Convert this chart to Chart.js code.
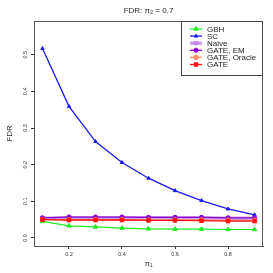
<!DOCTYPE html>
<html>
<head>
<meta charset="utf-8">
<script src="https://cdn.jsdelivr.net/npm/chart.js@4/dist/chart.umd.min.js"></script>
<style>
  html, body { margin: 0; padding: 0; background: #fff; }
  #wrap { width: 273px; height: 273px; }
</style>
</head>
<body>
<div id="wrap"><canvas id="c" width="273" height="273"></canvas></div>
<script>
// pi_1 values
const pi1 = [0.1, 0.2, 0.3, 0.4, 0.5, 0.6, 0.7, 0.8, 0.9];

// FDR per method
const gbh    = [0.045, 0.033, 0.030, 0.027, 0.025, 0.024, 0.024, 0.023, 0.023];
const sc     = [0.517, 0.359, 0.263, 0.206, 0.163, 0.129, 0.102, 0.079, 0.063];
const naive  = [0.054, 0.055, 0.055, 0.055, 0.055, 0.055, 0.055, 0.054, 0.054];
const gateEM = [0.055, 0.057, 0.057, 0.057, 0.056, 0.056, 0.056, 0.055, 0.055];
const oracle = [0.050, 0.050, 0.050, 0.050, 0.049, 0.049, 0.049, 0.048, 0.048];
const gate   = [0.050, 0.049, 0.049, 0.049, 0.048, 0.048, 0.047, 0.046, 0.046];

const xTicks = [0.2, 0.4, 0.6, 0.8];
const yTicks = [0.0, 0.1, 0.2, 0.3, 0.4, 0.5];

const labels = ["GBH", "SC", "Naive", "GATE, EM", "GATE, Oracle", "GATE"];
const values = [gbh, sc, naive, gateEM, oracle, gate];
const colors = ["#22ee22", "#1a1aff", "rgba(190,130,230,0.75)", "#8a00d0", "#ff8a6a", "#ff1010"];
const widths = [1.2, 1.3, 3.5, 1.3, 1.3, 1.3];
const styles = ["triangle", "triangle", "rect", "star", "circle", "rect"];
const radii  = [2.5, 2, 2.5, 2.5, 2.3, 2.5];

function pts(arr) {
    return arr.map((v, i) => ({ x: pi1[i], y: v }));
}

const datasets = labels.map((lab, i) => ({
    label: lab,
    data: pts(values[i]),
    borderColor: colors[i],
    backgroundColor: colors[i],
    borderWidth: widths[i],
    pointStyle: styles[i],
    pointRadius: radii[i],
    pointBorderWidth: styles[i] === "star" ? 1.5 : 1,
    order: labels.length - i,
    tension: 0
}));

// plot box, title and legend
const boxPlugin = {
    id: "boxPlugin",
    afterDraw(chart) {
        const ctx = chart.ctx;
        const a = chart.chartArea;
        ctx.save();
        ctx.strokeStyle = "#555";
        ctx.lineWidth = 1;
        ctx.strokeRect(Math.round(a.left) + 0.5, Math.round(a.top) + 0.5,
            Math.round(a.right - a.left) - 1, Math.round(a.bottom - a.top));

        // title
        ctx.fillStyle = "#222";
        ctx.font = "8px 'Liberation Sans', Arial, sans-serif";
        ctx.textAlign = "center";
        ctx.textBaseline = "middle";
        ctx.fillText("FDR: \u03c0\u2082 = 0.7", (a.left + a.right) / 2, 11);

        // legend
        const lx = 181, ly = Math.round(a.top) + 0.5, lw = Math.round(a.right) - 1 - lx, lh = 54;
        ctx.fillStyle = "#fff";
        ctx.fillRect(lx, ly, lw, lh);
        ctx.strokeStyle = "#444";
        ctx.strokeRect(lx + 0.5, ly, lw, lh);
        ctx.textAlign = "left";
        ctx.font = "8px 'Liberation Sans', Arial, sans-serif";
        labels.forEach((lab, i) => {
            const y = 29 + i * 7.1;
            ctx.strokeStyle = colors[i];
            ctx.lineWidth = widths[i];
            ctx.beginPath();
            ctx.moveTo(190, y);
            ctx.lineTo(202, y);
            ctx.stroke();
            ctx.fillStyle = colors[i];
            ctx.lineWidth = styles[i] === "star" ? 1.5 : 1;
            Chart.helpers.drawPoint(ctx, { pointStyle: styles[i], radius: radii[i], rotation: 0, borderWidth: 1 }, 196, y);
            ctx.fillStyle = "#222";
            ctx.fillText(lab, 207, y + 0.5);
        });
        ctx.restore();
    }
};

new Chart(document.getElementById("c"), {
    type: "line",
    data: { datasets: datasets },
    options: {
        responsive: false,
        animation: false,
        devicePixelRatio: 1,
        layout: { padding: { top: 21, right: 10, left: 0, bottom: 0 } },
        plugins: { legend: { display: false }, title: { display: false }, tooltip: { enabled: false } },
        scales: {
            x: {
                type: "linear",
                min: 0.068,
                max: 0.932,
                afterBuildTicks: s => { s.ticks = xTicks.map(v => ({ value: v })); },
                afterFit: s => { s.height = 27; },
                grid: { drawOnChartArea: false, drawTicks: true, tickLength: 3, color: "#333" },
                border: { display: true, color: "#555" },
                ticks: {
                    color: "#333",
                    padding: 2,
                    maxRotation: 0,
                    font: { size: 5.5, family: "'Liberation Sans', Arial, sans-serif" },
                    callback: v => v.toFixed(1)
                },
                title: {
                    display: true,
                    text: "\u03c0\u2081",
                    color: "#333",
                    padding: { top: 0, bottom: 4 },
                    font: { size: 8, family: "'Liberation Sans', Arial, sans-serif" }
                }
            },
            y: {
                type: "linear",
                min: -0.022,
                max: 0.592,
                afterBuildTicks: s => { s.ticks = yTicks.map(v => ({ value: v })); },
                afterFit: s => { s.width = 34; },
                grid: { drawOnChartArea: false, drawTicks: true, tickLength: 3, color: "#333" },
                border: { display: true, color: "#555" },
                ticks: {
                    color: "#333",
                    padding: 2,
                    minRotation: 90,
                    maxRotation: 90,
                    crossAlign: "center",
                    font: { size: 5.5, family: "'Liberation Sans', Arial, sans-serif" },
                    callback: v => v.toFixed(1)
                },
                title: {
                    display: true,
                    text: "FDR",
                    color: "#333",
                    padding: { top: 5, bottom: 0 },
                    font: { size: 8, family: "'Liberation Sans', Arial, sans-serif" }
                }
            }
        }
    },
    plugins: [boxPlugin]
});
</script>
</body>
</html>
